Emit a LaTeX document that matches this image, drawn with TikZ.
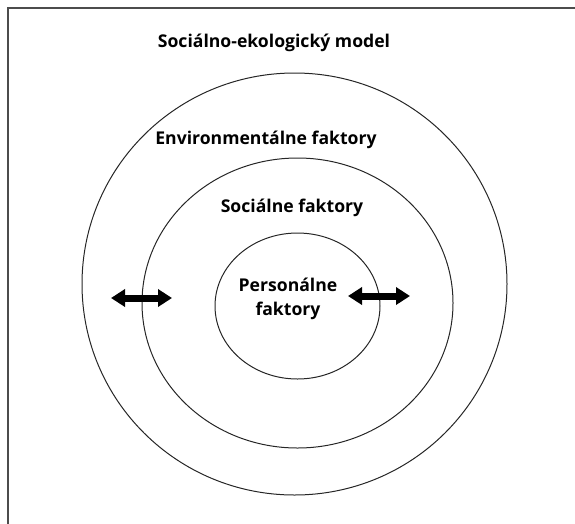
\documentclass[tikz,border=0pt]{standalone}
\usepackage{fontspec}
\setmainfont{Open Sans}
\usetikzlibrary{arrows.meta}
\tikzset{
  label text/.style={font=\bfseries\fontsize{17.6}{21}\selectfont, inner sep=0pt, align=center},
  ring/.style={draw=black!85, line width=1pt},
  bigarrow/.style={line width=7pt, {Triangle[width=17pt,length=14pt]}-{Triangle[width=17pt,length=14pt]}}
}
\begin{document}
\begin{tikzpicture}[x=1pt, y=-1pt]
  \useasboundingbox (0,0) rectangle (575,523);
  \draw[black!70, line width=1.2pt] (8,530) -- (8,8) -- (580,8);
  \draw[ring] (294.5,284) ellipse [x radius=212.5pt, y radius=211pt];
  \draw[ring] (297.5,303) ellipse [x radius=155.5pt, y radius=145pt];
  \draw[ring] (297.5,306) ellipse [x radius=82.5pt, y radius=73pt];
  \node[label text] (title) at (274,43) {Sociálno-ekologický model};
  \node[label text] (env) at (266,140) {Environmentálne faktory};
  \node[label text] (soc) at (292,208) {Sociálne faktory};
  \node[label text] (pers) at (288,299) {Personálne\\[3pt] faktory};
  \coordinate (la1) at (111,298);
  \coordinate (la2) at (172,298);
  \coordinate (ra1) at (348,296);
  \coordinate (ra2) at (410,296);
  \draw[bigarrow] (la1) -- (la2);
  \draw[bigarrow] (ra1) -- (ra2);
\end{tikzpicture}
\end{document}
